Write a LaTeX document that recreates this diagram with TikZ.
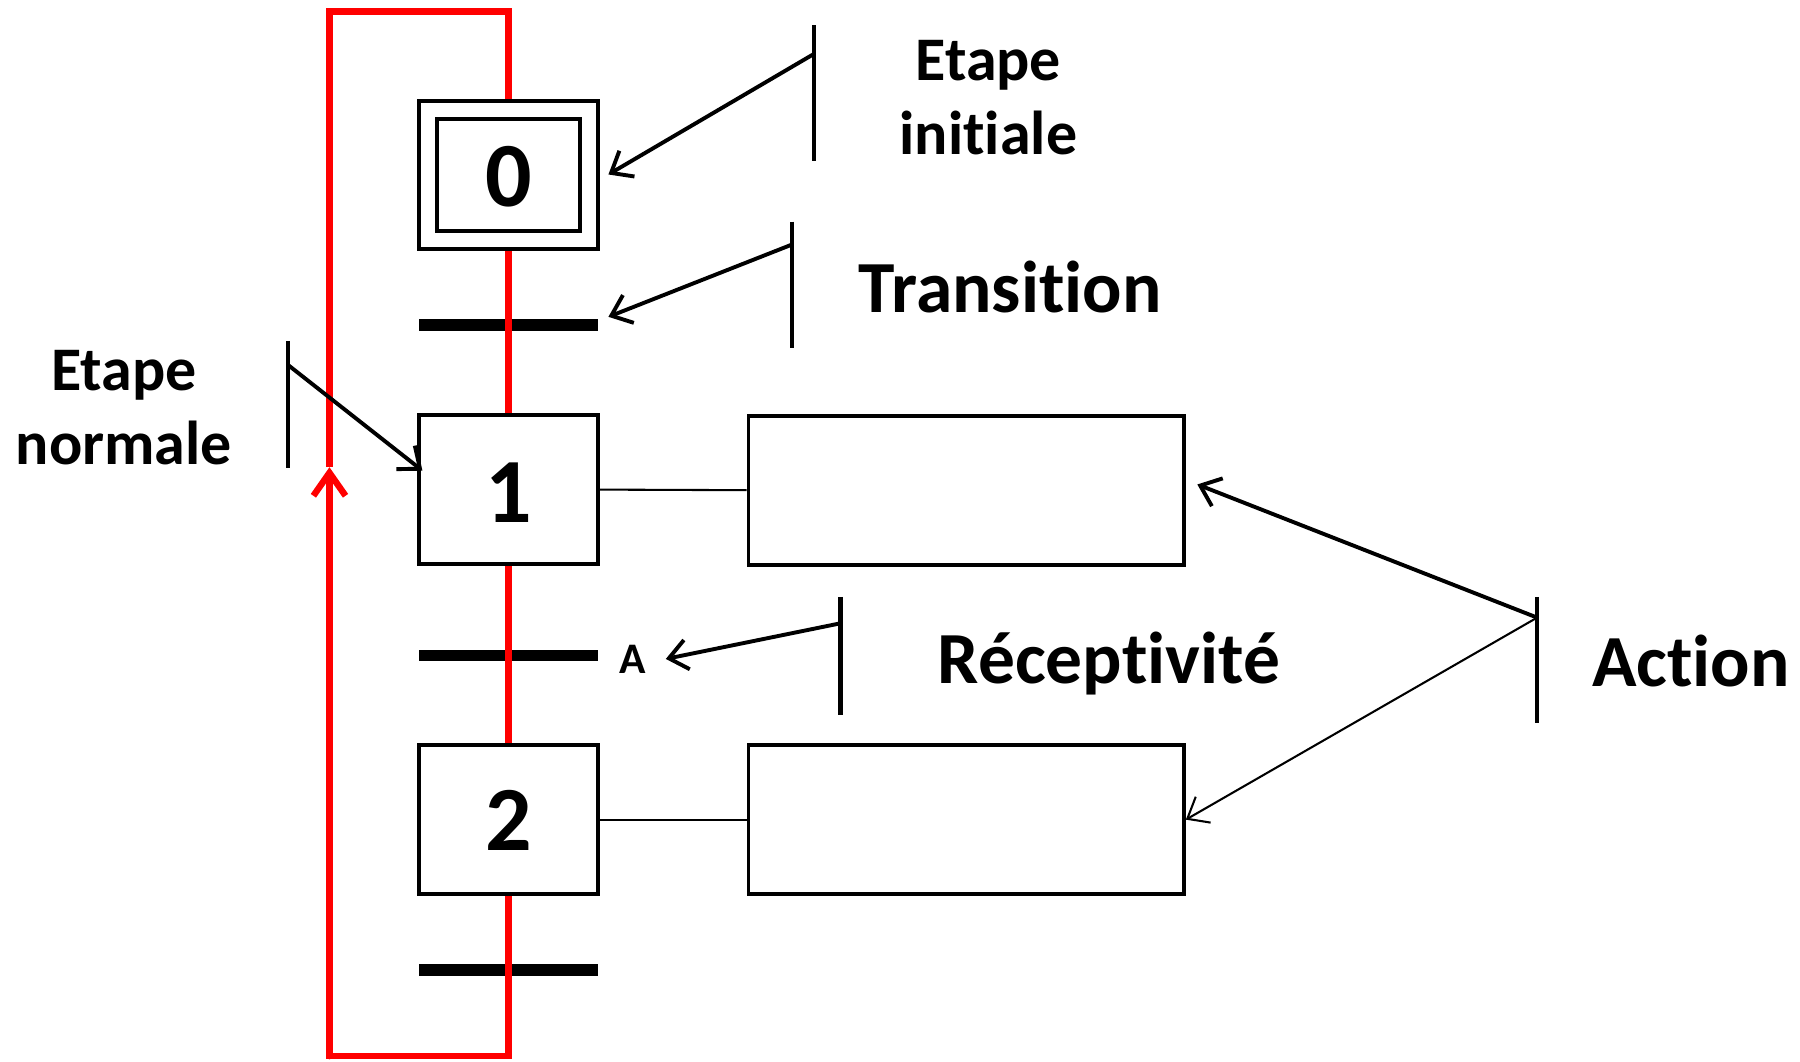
\documentclass[tikz,border=0pt]{standalone}
\usepackage{fontspec}
\setmainfont{Carlito}[Ligatures=NoCommon]
\usetikzlibrary{arrows.meta,calc}

\begin{document}
\begin{tikzpicture}[x=0.5pt,y=-0.5pt,
  stepbox/.style={draw, fill=white, line width=1.7pt, minimum width=78pt, minimum height=65pt,
    inner sep=0pt, font=\fontsize{40}{48}\selectfont\bfseries},
  actbox/.style={draw, fill=white, line width=1.7pt, minimum width=189.5pt, minimum height=65pt, inner sep=0pt},
  transbar/.style={fill=black, minimum width=78pt, minimum height=5pt, inner sep=0pt},
  redline/.style={draw=red, line width=2.8pt},
  linkline/.style={draw=black, line width=0.9pt},
  calloutbar/.style={draw=black, line width=2pt},
  callout/.style={draw=black, line width=1.7pt, -{Straight Barb[length=8pt,width=13pt]}},
  calloutthin/.style={draw=black, line width=0.9pt, -{Straight Barb[length=8pt,width=13pt]}},
  bigtxt/.style={font=\fontsize{32}{38}\selectfont\bfseries, inner sep=0pt},
  midtxt/.style={font=\fontsize{27}{32.5}\selectfont\bfseries, align=center, inner sep=0pt},
  smalltxt/.style={font=\fontsize{19}{23}\selectfont\bfseries, inner sep=0pt},
  numtxt/.style={font=\fontsize{40}{48}\selectfont\bfseries, anchor=base, inner sep=0pt}
]
\useasboundingbox (0,0) rectangle (1568,925);

% transitions
\node[transbar] (t1) at (443,283) {};
\node[transbar] (t2) at (443,571) {};
\node[transbar] (t3) at (443,845) {};

% step centres and loop corners
\coordinate (s0c) at (443,152.5);
\coordinate (s1c) at (443,426.5);
\coordinate (s2c) at (443,714);
\coordinate (loopbr) at (443,920);
\coordinate (loopbl) at (287,920);
\coordinate (looptip) at (287,407);
\coordinate (looptl) at (287,10);
\coordinate (looptr) at (443,10);

% red flow lines
\draw[redline] (s0c) -- (s1c);
\draw[redline] (s1c) -- (s2c);
\draw[redline] (s2c) -- (loopbr) -- (loopbl) -- (287,440);
\draw[redline, line cap=round, -{Straight Barb[length=10pt,width=14pt]}] (loopbl) -- (looptip);
\draw[redline] (looptip) -- (looptl) -- (looptr) -- (s0c);

% steps
\node[stepbox, minimum height=64.5pt] (s0) at (s0c) {};
\node[draw, line width=1.7pt, minimum width=62pt, minimum height=49pt, inner sep=0pt] (s0in) at (s0c) {};
\node[numtxt] (n0) at (443,180) {0};
\node[stepbox] (s1) at (s1c) {};
\node[numtxt] (n1) at (443,455) {1};
\node[stepbox] (s2) at (s2c) {};
\node[numtxt] (n2) at (443,741) {2};

% actions
\node[actbox] (a1) at (841.5,427) {};
\node[actbox] (a2) at (841.5,714) {};
\draw[linkline] (s1.east) -- (a1.west);
\draw[linkline] (s2.east) -- (a2.west);

% receptivity
\node[smalltxt, anchor=base] (recA) at (551,587) {A};

% callout: initial step
\coordinate (ci1) at (709,22);
\coordinate (ci2) at (709,140);
\coordinate (ciA) at (709,47);
\coordinate (ciT) at (530,152);
\draw[calloutbar] (ci1) -- (ci2);
\draw[callout] (ciA) -- (ciT);
\node[midtxt] (lblinit) at (861,85) {Etape\\initiale};

% callout: transition
\coordinate (ct1) at (690,193);
\coordinate (ct2) at (690,303);
\coordinate (ctA) at (690,213);
\coordinate (ctT) at (530,276);
\draw[calloutbar] (ct1) -- (ct2);
\draw[callout] (ctA) -- (ctT);
\node[bigtxt, anchor=base] (lbltrans) at (880,272) {Transition};

% callout: normal step
\coordinate (cn1) at (251,297);
\coordinate (cn2) at (251,408);
\coordinate (cnA) at (251,318);
\coordinate (cnT) at (368,410);
\draw[calloutbar] (cn1) -- (cn2);
\draw[callout] (cnA) -- (cnT);
\node[midtxt] (lblnorm) at (108,355) {Etape\\normale};

% callout: receptivity
\coordinate (cr1) at (732,520);
\coordinate (cr2) at (732,623);
\coordinate (crA) at (732,543);
\coordinate (crT) at (580,574);
\draw[calloutbar] (cr1) -- (cr2);
\draw[callout] (crA) -- (crT);
\node[bigtxt, anchor=base] (lblrec) at (966,595) {Réceptivité};

% callout: actions
\coordinate (ca1) at (1339,520);
\coordinate (ca2) at (1339,630);
\coordinate (caA) at (1339,538);
\coordinate (caT1) at (1043,422);
\coordinate (caT2) at (1033,714);
\draw[calloutbar] (ca1) -- (ca2);
\draw[callout] (caA) -- (caT1);
\draw[calloutthin] (caA) -- (caT2);
\node[bigtxt, anchor=base] (lblact) at (1473,598) {Action};
\end{tikzpicture}
\end{document}
